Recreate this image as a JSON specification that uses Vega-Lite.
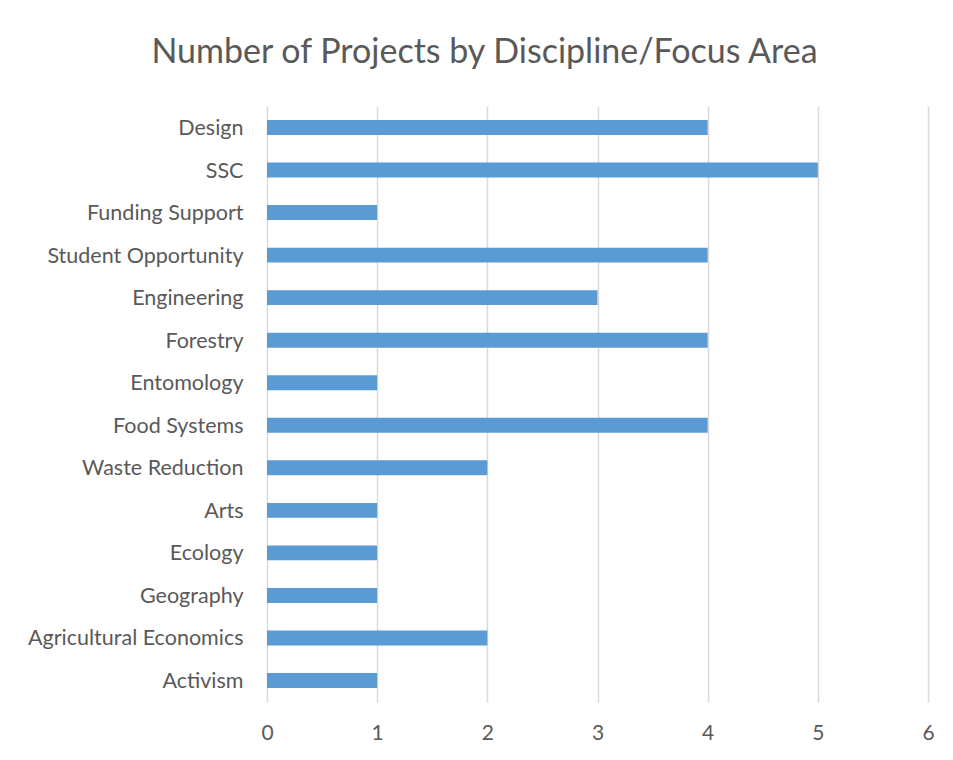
{
  "$schema": "https://vega.github.io/schema/vega-lite/v6.json",
  "width": 661,
  "height": 596,
  "autosize": {"type": "none"},
  "padding": {"left": 267, "top": 106, "right": 25, "bottom": 58},
  "background": "white",
  "title": {
    "text": "Number of Projects by Discipline/Focus Area",
    "font": "Lato",
    "fontSize": 34,
    "fontWeight": "normal",
    "color": "#595959",
    "anchor": "middle",
    "dx": -113,
    "offset": 36
  },
  "config": {
    "view": {"stroke": null},
    "font": "Lato"
  },
  "data": {
    "values": [
      {"area": "Design", "projects": 4},
      {"area": "SSC", "projects": 5},
      {"area": "Funding Support", "projects": 1},
      {"area": "Student Opportunity", "projects": 4},
      {"area": "Engineering", "projects": 3},
      {"area": "Forestry", "projects": 4},
      {"area": "Entomology", "projects": 1},
      {"area": "Food Systems", "projects": 4},
      {"area": "Waste Reduction", "projects": 2},
      {"area": "Arts", "projects": 1},
      {"area": "Ecology", "projects": 1},
      {"area": "Geography", "projects": 1},
      {"area": "Agricultural Economics", "projects": 2},
      {"area": "Activism", "projects": 1}
    ]
  },
  "mark": {"type": "bar", "color": "#5B9BD5"},
  "encoding": {
    "y": {
      "field": "area",
      "type": "nominal",
      "sort": null,
      "scale": {"paddingInner": 0.65, "paddingOuter": 0.33},
      "axis": {
        "title": null,
        "domain": false,
        "ticks": false,
        "grid": false,
        "labelPadding": 24,
        "labelFontSize": 21.5,
        "labelLimit": 0,
        "labelOffset": 1.5,
        "labelColor": "#595959",
        "labelFont": "Lato"
      }
    },
    "x": {
      "field": "projects",
      "type": "quantitative",
      "scale": {"domain": [0, 6], "nice": false},
      "axis": {
        "title": null,
        "values": [0, 1, 2, 3, 4, 5, 6],
        "domain": false,
        "ticks": false,
        "grid": true,
        "gridColor": "#D9D9D9",
        "gridWidth": 1.5,
        "labelPadding": 20,
        "labelFontSize": 21,
        "labelColor": "#595959",
        "labelFont": "Lato",
        "labelFlush": false
      }
    }
  }
}
